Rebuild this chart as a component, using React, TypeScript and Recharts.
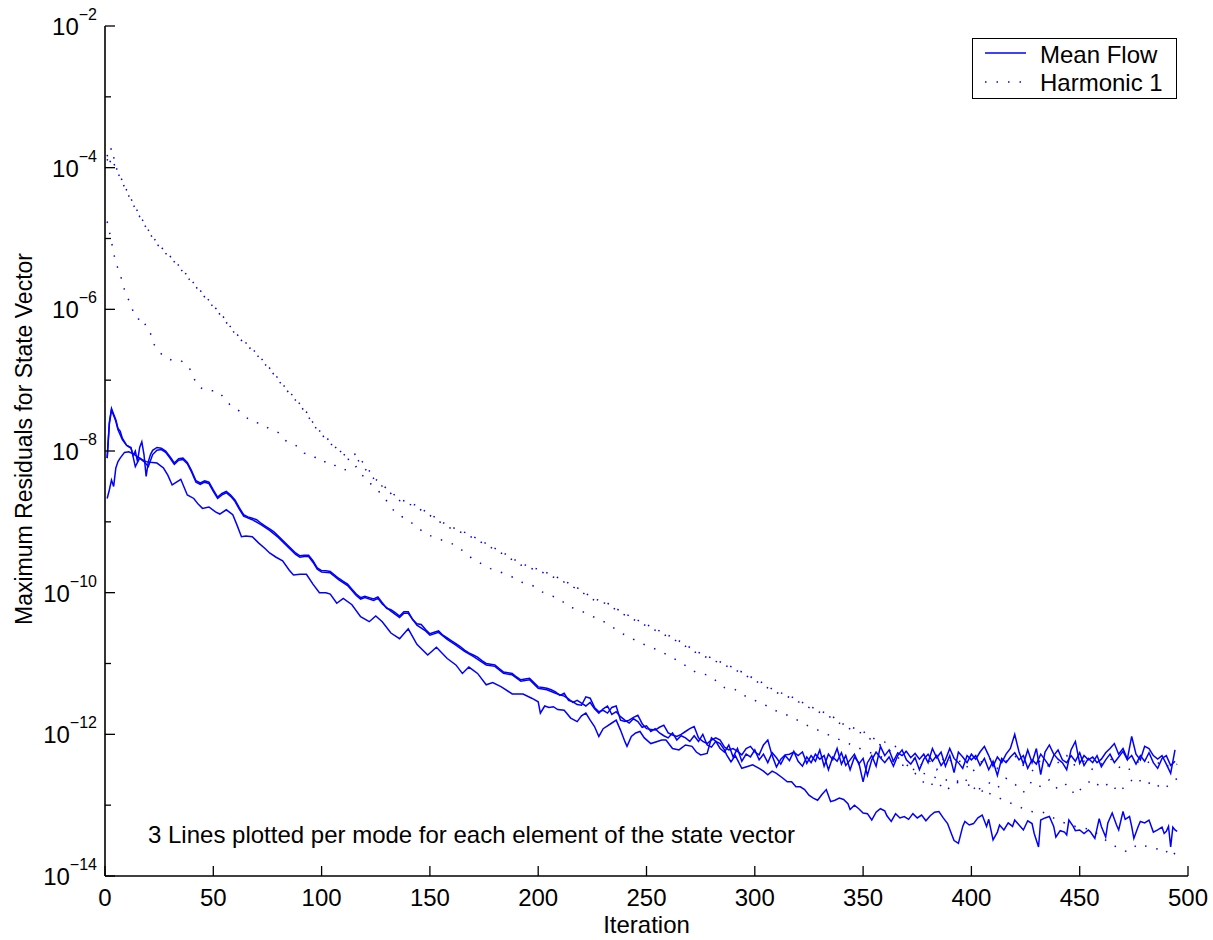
import React from "react";
import { LineChart, Line, XAxis, YAxis, Legend } from "recharts";

const FONT = '"Liberation Sans", Arial, Helvetica, sans-serif';
const BLUE = "#0000ff";

// [iteration, log10(max residual)]
const meanFlowA: [number, number][] = [
  [1, -8.1], [2, -7.6], [3, -7.4], [4, -7.48], [5, -7.56], [6, -7.68], [7, -7.72], [8, -7.82],
  [10, -7.92], [11, -7.94], [12, -7.96], [13, -8.06], [14, -8.0], [15, -8.15], [16, -7.95], [17, -7.87],
  [18, -8.05], [19, -8.36], [20, -8.15], [21, -8.05], [22, -7.99], [24, -7.95], [26, -7.96], [28, -8.0],
  [30, -8.08], [32, -8.17], [34, -8.11], [36, -8.1], [38, -8.16], [40, -8.28], [42, -8.42], [44, -8.45],
  [46, -8.42], [48, -8.44], [50, -8.55], [52, -8.65], [54, -8.6], [56, -8.57], [58, -8.62], [60, -8.69],
  [62, -8.8], [64, -8.9], [66, -8.93], [68, -8.95], [70, -8.97], [72, -9.02], [74, -9.06], [76, -9.1],
  [78, -9.14], [80, -9.2], [82, -9.26], [84, -9.32], [86, -9.38], [88, -9.44], [90, -9.48], [92, -9.47],
  [94, -9.47], [96, -9.55], [98, -9.65], [100, -9.69], [102, -9.69], [104, -9.7], [106, -9.75], [108, -9.8],
  [110, -9.84], [112, -9.88], [114, -9.95], [116, -10.02], [118, -10.07], [120, -10.05], [122, -10.07],
  [124, -10.09], [126, -10.06], [128, -10.14], [130, -10.22], [132, -10.24], [134, -10.28], [136, -10.33],
  [138, -10.27], [140, -10.27], [142, -10.38], [144, -10.44], [146, -10.45], [148, -10.52], [150, -10.58],
  [152, -10.56], [154, -10.54], [156, -10.6], [158, -10.64], [160, -10.68], [162, -10.72], [164, -10.76],
  [166, -10.81], [168, -10.85], [170, -10.88], [172, -10.91], [174, -10.96], [176, -11.0], [178, -11.01],
  [180, -11.02], [182, -11.07], [184, -11.12], [186, -11.13], [188, -11.14], [190, -11.19], [192, -11.23],
  [194, -11.22], [196, -11.21], [198, -11.27], [200, -11.33], [202, -11.34], [204, -11.35], [206, -11.37],
  [208, -11.4], [210, -11.45], [212, -11.42], [214, -11.52], [216, -11.54], [218, -11.58], [220, -11.59],
  [222, -11.47], [224, -11.49], [226, -11.62], [228, -11.68], [230, -11.66], [232, -11.7], [234, -11.62],
  [236, -11.6], [238, -11.8], [240, -11.82], [242, -11.8], [244, -11.76], [246, -11.73], [248, -11.85],
  [250, -11.92], [252, -11.93], [254, -11.94], [256, -11.9], [258, -11.87], [260, -11.98], [262, -12.01],
  [264, -12.03], [266, -12.0], [268, -11.96], [270, -11.92], [272, -11.89], [274, -12.05], [276, -12.1],
  [278, -12.13], [280, -12.08], [282, -12.05], [284, -12.08], [286, -12.18], [288, -12.22], [290, -12.2],
  [292, -12.24], [294, -12.29], [296, -12.2], [298, -12.17], [300, -12.25], [302, -12.29], [304, -12.15],
  [306, -12.08], [308, -12.3], [310, -12.46], [312, -12.35], [314, -12.29], [316, -12.28], [318, -12.25],
  [320, -12.3], [322, -12.25], [324, -12.41], [326, -12.3], [328, -12.38], [330, -12.22], [332, -12.45],
  [334, -12.28], [336, -12.36], [338, -12.2], [340, -12.42], [342, -12.3], [344, -12.5], [346, -12.32],
  [348, -12.4], [350, -12.67], [352, -12.4], [354, -12.3], [356, -12.45], [358, -12.17], [360, -12.3],
  [362, -12.22], [364, -12.38], [366, -12.26], [368, -12.3], [370, -12.24], [372, -12.33], [374, -12.27],
  [376, -12.35], [378, -12.28], [380, -12.4], [382, -12.2], [384, -12.33], [386, -12.25], [388, -12.45],
  [390, -12.3], [392, -12.54], [394, -12.25], [396, -12.32], [398, -12.4], [400, -12.28], [402, -12.35],
  [404, -12.25], [406, -12.17], [408, -12.3], [410, -12.45], [412, -12.32], [414, -12.4], [416, -12.28],
  [418, -12.2], [420, -12.0], [422, -12.25], [424, -12.42], [426, -12.22], [428, -12.4], [430, -12.2],
  [432, -12.57], [434, -12.25], [436, -12.15], [438, -12.28], [440, -12.35], [442, -12.4], [444, -12.5],
  [446, -12.22], [448, -12.1], [450, -12.41], [452, -12.3], [454, -12.36], [456, -12.32], [458, -12.4],
  [460, -12.35], [462, -12.26], [464, -12.2], [466, -12.13], [468, -12.28], [470, -12.2], [472, -12.35],
  [474, -12.03], [476, -12.28], [478, -12.36], [480, -12.17], [482, -12.2], [484, -12.3], [486, -12.35],
  [488, -12.3], [490, -12.42], [492, -12.55], [494, -12.22],
];

const meanFlowB: [number, number][] = [
  [1, -8.1], [2, -7.62], [3, -7.42], [4, -7.5], [5, -7.58], [6, -7.7], [8, -7.84], [10, -7.92],
  [12, -7.95], [14, -8.22], [16, -8.1], [18, -8.15], [20, -8.22], [22, -8.05], [24, -7.99], [26, -7.98],
  [28, -8.02], [30, -8.1], [32, -8.19], [34, -8.13], [36, -8.12], [38, -8.18], [40, -8.3], [42, -8.44],
  [44, -8.47], [46, -8.44], [48, -8.46], [50, -8.57], [52, -8.67], [54, -8.62], [56, -8.59], [58, -8.64],
  [60, -8.71], [62, -8.82], [64, -8.92], [68, -8.97], [72, -9.04], [76, -9.12], [80, -9.22], [84, -9.34],
  [88, -9.46], [90, -9.5], [92, -9.49], [94, -9.49], [96, -9.57], [98, -9.67], [100, -9.71], [104, -9.72],
  [108, -9.82], [112, -9.9], [116, -10.04], [118, -10.09], [120, -10.07], [124, -10.11], [126, -10.08],
  [128, -10.16], [132, -10.26], [136, -10.35], [138, -10.29], [140, -10.29], [144, -10.46], [148, -10.54],
  [150, -10.6], [154, -10.56], [158, -10.66], [162, -10.74], [166, -10.83], [170, -10.9], [174, -10.98],
  [176, -11.02], [180, -11.04], [184, -11.14], [188, -11.16], [192, -11.25], [196, -11.23], [200, -11.35],
  [204, -11.37], [208, -11.42], [210, -11.44], [212, -11.46], [214, -11.5], [216, -11.55], [218, -11.52],
  [220, -11.56], [222, -11.6], [224, -11.55], [226, -11.64], [228, -11.7], [230, -11.64], [232, -11.6],
  [234, -11.72], [236, -11.68], [238, -11.75], [240, -11.8], [242, -11.84], [244, -11.78], [246, -11.82],
  [248, -11.9], [250, -11.88], [252, -11.96], [254, -11.92], [256, -11.98], [258, -12.02], [260, -12.05],
  [262, -11.98], [264, -12.08], [266, -12.02], [268, -12.05], [270, -12.1], [272, -12.02], [274, -12.1],
  [276, -12.0], [278, -12.15], [280, -12.18], [282, -12.1], [284, -12.2], [286, -12.25], [288, -12.15],
  [290, -12.32], [292, -12.2], [294, -12.38], [296, -12.28], [298, -12.32], [300, -12.22], [302, -12.36],
  [304, -12.28], [306, -12.4], [308, -12.26], [310, -12.33], [312, -12.42], [314, -12.3], [316, -12.37],
  [318, -12.24], [320, -12.38], [322, -12.45], [324, -12.32], [326, -12.4], [328, -12.28], [330, -12.35],
  [332, -12.3], [334, -12.5], [336, -12.32], [338, -12.38], [340, -12.26], [342, -12.44], [344, -12.36],
  [346, -12.28], [348, -12.42], [350, -12.34], [352, -12.58], [354, -12.36], [356, -12.25], [358, -12.33],
  [360, -12.4], [362, -12.32], [364, -12.45], [366, -12.3], [368, -12.22], [370, -12.36], [372, -12.42],
  [374, -12.33], [376, -12.5], [378, -12.35], [380, -12.28], [382, -12.38], [384, -12.3], [386, -12.44],
  [388, -12.36], [390, -12.2], [392, -12.34], [394, -12.4], [396, -12.48], [398, -12.3], [400, -12.36],
  [402, -12.3], [404, -12.44], [406, -12.34], [408, -12.5], [410, -12.38], [412, -12.58], [414, -12.34],
  [416, -12.4], [418, -12.32], [420, -12.26], [422, -12.36], [424, -12.3], [426, -12.48], [428, -12.36],
  [430, -12.42], [432, -12.28], [434, -12.36], [436, -12.45], [438, -12.3], [440, -12.22], [442, -12.36],
  [444, -12.4], [446, -12.3], [448, -12.38], [450, -12.26], [452, -12.44], [454, -12.34], [456, -12.4],
  [458, -12.3], [460, -12.46], [462, -12.36], [464, -12.28], [466, -12.4], [468, -12.32], [470, -12.24],
  [472, -12.36], [474, -12.3], [476, -12.42], [478, -12.3], [480, -12.38], [482, -12.26], [484, -12.4],
  [486, -12.48], [488, -12.34], [490, -12.3], [492, -12.44], [494, -12.38],
];

const meanFlowC: [number, number][] = [
  [1, -8.67], [2, -8.55], [3, -8.41], [4, -8.5], [5, -8.24], [6, -8.15], [7, -8.1], [9, -8.02],
  [11, -8.01], [13, -8.04], [15, -8.08], [17, -8.12], [19, -8.15], [21, -8.16], [24, -8.17], [27, -8.24],
  [29, -8.34], [31, -8.48], [33, -8.44], [35, -8.4], [38, -8.62], [41, -8.67], [43, -8.75], [45, -8.81],
  [48, -8.79], [51, -8.86], [53, -8.89], [56, -8.83], [59, -8.9], [61, -9.05], [63, -9.21], [65, -9.2],
  [68, -9.21], [71, -9.3], [74, -9.38], [76, -9.44], [79, -9.5], [82, -9.55], [85, -9.68], [87, -9.75],
  [90, -9.74], [93, -9.74], [96, -9.88], [99, -10.0], [102, -10.0], [104, -10.02], [107, -10.15],
  [110, -10.08], [114, -10.17], [118, -10.34], [122, -10.41], [125, -10.33], [128, -10.41], [132, -10.57],
  [136, -10.65], [140, -10.51], [144, -10.73], [149, -10.88], [153, -10.77], [158, -10.93], [162, -11.02],
  [165, -11.14], [168, -11.05], [172, -11.14], [176, -11.3], [179, -11.27], [183, -11.33], [188, -11.43],
  [193, -11.43], [197, -11.49], [200, -11.54], [201, -11.7], [203, -11.6], [205, -11.62], [207, -11.61],
  [209, -11.65], [212, -11.66], [215, -11.77], [218, -11.82], [220, -11.74], [222, -11.7], [224, -11.8],
  [226, -11.89], [228, -12.03], [230, -11.92], [232, -11.88], [234, -11.84], [236, -11.8], [238, -11.94],
  [240, -12.1], [241, -12.17], [243, -12.03], [245, -11.98], [247, -11.96], [249, -12.05], [252, -12.13],
  [255, -12.1], [257, -12.08], [259, -12.08], [262, -12.2], [265, -12.22], [268, -12.15], [271, -12.17],
  [273, -12.25], [275, -12.29], [278, -12.27], [280, -12.05], [282, -12.1], [284, -12.13], [286, -12.22],
  [287, -12.29], [289, -12.39], [291, -12.3], [294, -12.48], [297, -12.45], [299, -12.43], [302, -12.48],
  [304, -12.52], [306, -12.57], [308, -12.52], [310, -12.55], [313, -12.62], [315, -12.67], [317, -12.67],
  [319, -12.74], [321, -12.74], [323, -12.78], [325, -12.86], [327, -12.9], [329, -12.93], [331, -12.85],
  [333, -12.78], [335, -12.95], [337, -12.93], [339, -12.9], [341, -12.92], [343, -12.98], [344, -13.06],
  [346, -13.0], [348, -13.05], [350, -13.11], [352, -13.12], [354, -13.21], [356, -13.1], [358, -13.05],
  [360, -13.08], [361, -13.15], [363, -13.23], [365, -13.12], [367, -13.18], [369, -13.16], [371, -13.2],
  [373, -13.12], [375, -13.18], [377, -13.14], [379, -13.22], [381, -13.15], [383, -13.1], [385, -13.09],
  [387, -13.18], [389, -13.26], [391, -13.42], [392, -13.5], [394, -13.54], [396, -13.3], [397, -13.23],
  [399, -13.28], [401, -13.26], [403, -13.18], [405, -13.14], [407, -13.3], [408, -13.2], [410, -13.49],
  [412, -13.38], [413, -13.28], [415, -13.35], [417, -13.25], [419, -13.3], [420, -13.21], [422, -13.28],
  [424, -13.35], [426, -13.22], [428, -13.26], [429, -13.4], [431, -13.59], [432, -13.21], [434, -13.18],
  [436, -13.16], [438, -13.3], [439, -13.45], [441, -13.36], [443, -13.38], [444, -13.42], [445, -13.21],
  [447, -13.3], [448, -13.36], [450, -13.35], [452, -13.4], [454, -13.35], [455, -13.38], [457, -13.47],
  [459, -13.19], [460, -13.3], [462, -13.45], [463, -13.25], [465, -13.11], [467, -13.28], [468, -13.35],
  [470, -13.09], [471, -13.2], [473, -13.16], [474, -13.3], [475, -13.47], [477, -13.3], [478, -13.23],
  [480, -13.25], [482, -13.21], [484, -13.38], [486, -13.35], [488, -13.31], [489, -13.4], [490, -13.37],
  [491, -13.3], [492, -13.59], [493, -13.31], [494, -13.35], [495, -13.37],
];

const harmonicA: [number, number][] = [
  [1, -3.9], [2, -3.8], [3, -3.72], [4, -3.85], [5, -3.99], [7, -4.12], [10, -4.32], [13, -4.5],
  [16, -4.67], [20, -4.88], [24, -5.06], [28, -5.19], [32, -5.31], [36, -5.45], [39, -5.56], [43, -5.7],
  [47, -5.84], [51, -5.98], [55, -6.12], [58, -6.25], [62, -6.39], [66, -6.5], [70, -6.62], [74, -6.76],
  [78, -6.9], [82, -7.06], [85, -7.16], [89, -7.3], [93, -7.45], [96, -7.6], [98, -7.68], [101, -7.78],
  [105, -7.89], [108, -8.01], [112, -8.08], [116, -8.04], [120, -8.2], [125, -8.4], [130, -8.53],
  [136, -8.68], [143, -8.76], [150, -8.89], [158, -9.05], [167, -9.16], [175, -9.29], [184, -9.44],
  [192, -9.59], [201, -9.68], [210, -9.8], [218, -9.93], [226, -10.09], [231, -10.13], [239, -10.28],
  [248, -10.42], [256, -10.54], [265, -10.68], [273, -10.83], [282, -10.95], [291, -11.07], [300, -11.22],
  [304, -11.28], [309, -11.38], [317, -11.47], [325, -11.6], [335, -11.73], [342, -11.88], [349, -11.94],
  [355, -12.06], [362, -12.13], [367, -12.2], [372, -12.28], [376, -12.45], [380, -12.35], [384, -12.5],
  [388, -12.3], [392, -12.42], [396, -12.36], [400, -12.55], [404, -12.4], [408, -12.32], [412, -12.48],
  [416, -12.38], [420, -12.3], [424, -12.44], [428, -12.52], [432, -12.36], [436, -12.46], [440, -12.4],
  [444, -12.3], [448, -12.45], [452, -12.38], [456, -12.5], [460, -12.42], [464, -12.34], [468, -12.46],
  [472, -12.52], [476, -12.4], [480, -12.36], [484, -12.44], [488, -12.38], [492, -12.48], [495, -12.42],
];

const harmonicB: [number, number][] = [
  [1, -3.82], [2, -3.95], [3, -3.86], [4, -3.93], [5, -4.02], [7, -4.14], [10, -4.34], [13, -4.52],
  [16, -4.69], [20, -4.9], [24, -5.08], [28, -5.21], [32, -5.33], [36, -5.47], [39, -5.58], [43, -5.72],
  [47, -5.86], [51, -6.0], [55, -6.14], [58, -6.27], [62, -6.41], [66, -6.52], [70, -6.64], [74, -6.78],
  [78, -6.92], [82, -7.08], [85, -7.18], [89, -7.32], [93, -7.47], [96, -7.62], [98, -7.7], [101, -7.8],
  [105, -7.92], [108, -7.98], [112, -8.12], [116, -8.1], [120, -8.25], [125, -8.42], [130, -8.55],
  [136, -8.7], [143, -8.78], [150, -8.91], [158, -9.07], [167, -9.18], [175, -9.31], [184, -9.46],
  [192, -9.61], [201, -9.7], [210, -9.82], [218, -9.95], [226, -10.11], [231, -10.15], [239, -10.3],
  [248, -10.44], [256, -10.56], [265, -10.7], [273, -10.85], [282, -10.97], [291, -11.09], [300, -11.24],
  [309, -11.4], [317, -11.49], [325, -11.62], [335, -11.76], [342, -11.9], [349, -11.98], [355, -12.1],
  [362, -12.22], [367, -12.35], [372, -12.48], [376, -12.62], [380, -12.74], [384, -12.66], [388, -12.8],
  [392, -12.7], [396, -12.6], [400, -12.72], [404, -12.84], [408, -12.68], [412, -12.76], [416, -12.62],
  [420, -12.7], [424, -12.82], [428, -12.66], [432, -12.74], [436, -12.64], [440, -12.78], [444, -12.7],
  [448, -12.86], [452, -12.72], [456, -12.64], [460, -12.76], [464, -12.68], [468, -12.82], [472, -12.7],
  [476, -12.6], [480, -12.72], [484, -12.66], [488, -12.78], [492, -12.7], [495, -12.62],
];

const harmonicC: [number, number][] = [
  [1, -4.76], [2, -4.9], [3, -5.05], [4, -5.2], [5, -5.35], [7, -5.49], [8, -5.63], [10, -5.82],
  [12, -5.92], [13, -6.04], [15, -6.14], [18, -6.13], [19, -6.28], [21, -6.34], [22, -6.47], [24, -6.55],
  [27, -6.67], [31, -6.72], [35, -6.72], [39, -6.83], [41, -6.97], [43, -7.09], [47, -7.15], [52, -7.15],
  [55, -7.25], [58, -7.36], [61, -7.41], [65, -7.52], [68, -7.59], [72, -7.61], [76, -7.69], [80, -7.74],
  [83, -7.85], [86, -7.88], [90, -7.96], [92, -8.03], [96, -8.06], [99, -8.15], [104, -8.15], [108, -8.25],
  [112, -8.27], [116, -8.22], [120, -8.39], [124, -8.5], [128, -8.62], [134, -8.87], [141, -9.0],
  [148, -9.17], [154, -9.24], [162, -9.33], [166, -9.43], [170, -9.53], [178, -9.66], [187, -9.76],
  [192, -9.85], [197, -9.89], [201, -9.98], [210, -10.09], [214, -10.2], [218, -10.23], [222, -10.29],
  [231, -10.42], [239, -10.58], [248, -10.72], [256, -10.82], [265, -10.97], [273, -11.13], [278, -11.16],
  [282, -11.24], [286, -11.34], [290, -11.35], [295, -11.45], [300, -11.52], [305, -11.59], [310, -11.67],
  [316, -11.74], [324, -11.87], [332, -11.98], [341, -12.1], [350, -12.22], [361, -12.35], [372, -12.48],
  [382, -12.6], [392, -12.67], [402, -12.74], [410, -12.86], [418, -12.97], [427, -13.09], [433, -13.1],
  [441, -13.23], [448, -13.3], [456, -13.35], [460, -13.45], [465, -13.56], [472, -13.66], [477, -13.55],
  [482, -13.59], [486, -13.62], [489, -13.61], [492, -13.73], [495, -13.65],
];

const legendOrder = ["Mean Flow", "Harmonic 1"];
const xTicks = [0, 50, 100, 150, 200, 250, 300, 350, 400, 450, 500];
const decadeExponents = [-14, -13, -12, -11, -10, -9, -8, -7, -6, -5, -4, -3, -2];
const yTicks = decadeExponents.map((e) => Math.pow(10, e));

const toPoints = (pairs: [number, number][]) =>
  pairs.map(([it, e]) => ({ it, r: Math.pow(10, e) }));

const DOTTED = "1.5 10";

function exponentOf(v: number) {
  return Math.round(Math.log10(v));
}

function LeftTick(props: any) {
  const { x, y, payload } = props;
  const exp = exponentOf(payload.value);
  const major = exp % 2 === 0;
  return (
    <g>
      <line x1={x} x2={x + (major ? 10 : 6)} y1={y} y2={y} stroke="#000" strokeWidth={1.3} />
      {major && (
        <text x={x - 8} y={y + 9} textAnchor="end" fontFamily={FONT} fontSize={24} fill="#000">
          10
          <tspan fontSize={16} dy={-15}>{`\u2212${-exp}`}</tspan>
        </text>
      )}
    </g>
  );
}

function RightTick(props: any) {
  const { x, y, payload } = props;
  const major = exponentOf(payload.value) % 2 === 0;
  return <line x1={x} x2={x - (major ? 10 : 6)} y1={y} y2={y} stroke="#000" strokeWidth={1.3} />;
}

function BottomTick(props: any) {
  const { x, y, payload } = props;
  return (
    <g>
      <line x1={x} x2={x} y1={y} y2={y - 10} stroke="#000" strokeWidth={1.3} />
      <text x={x} y={y + 30} textAnchor="middle" fontFamily={FONT} fontSize={24} fill="#000">
        {payload.value}
      </text>
    </g>
  );
}

function TopTick(props: any) {
  const { x, y } = props;
  return <line x1={x} x2={x} y1={y} y2={y + 10} stroke="#000" strokeWidth={1.3} />;
}

function LegendBox(props: any) {
  const items = (props.payload ?? [])
    .filter((entry: any) => entry.type !== "none" && legendOrder.includes(entry.value))
    .sort((a: any, b: any) => legendOrder.indexOf(a.value) - legendOrder.indexOf(b.value));
  return (
    <svg width={205} height={61} style={{ display: "block" }}>
      <rect x={0.5} y={0.5} width={204} height={60} fill="#fff" stroke="#000" strokeWidth={1} />
      {items.map((entry: any, i: number) => (
        <g key={entry.value}>
          <line
            x1={13}
            x2={54}
            y1={15 + i * 29}
            y2={15 + i * 29}
            stroke={entry.color}
            strokeWidth={1.5}
            strokeDasharray={entry.payload?.strokeDasharray}
          />
          <text x={68} y={25 + i * 28} fontFamily={FONT} fontSize={24} fill="#000">
            {entry.value}
          </text>
        </g>
      ))}
    </svg>
  );
}

const axisLine = { stroke: "#000", strokeWidth: 1.6 };

export default function App() {
  return (
    <div style={{ position: "absolute", left: 0, top: 0, width: 1213, height: 940, background: "#fff" }}>
      <LineChart width={1213} height={940} margin={{ top: 26, right: 25, bottom: 0, left: 0 }}>
        <XAxis
          dataKey="it"
          type="number"
          domain={[0, 500]}
          ticks={xTicks}
          interval={0}
          allowDataOverflow
          height={64}
          axisLine={axisLine}
          tickLine={false}
          tickSize={0}
          tickMargin={0}
          tick={<BottomTick />}
          label={{ value: "Iteration", position: "insideBottom", offset: 7, fill: "#000", fontSize: 24, fontFamily: FONT }}
        />
        <XAxis
          xAxisId="top"
          orientation="top"
          type="number"
          domain={[0, 500]}
          ticks={xTicks}
          interval={0}
          allowDataOverflow
          height={0}
          axisLine={axisLine}
          tickLine={false}
          tickSize={0}
          tickMargin={0}
          tick={<TopTick />}
        />
        <YAxis
          type="number"
          scale="log"
          domain={[1e-14, 1e-2]}
          ticks={yTicks}
          interval={0}
          allowDataOverflow
          width={105}
          axisLine={axisLine}
          tickLine={false}
          tickSize={0}
          tickMargin={0}
          tick={<LeftTick />}
          label={{
            value: "Maximum Residuals for State Vector",
            angle: -90,
            position: "insideLeft",
            offset: 24,
            dy: -12,
            fill: "#000",
            fontSize: 23,
            fontFamily: FONT,
            style: { textAnchor: "middle" },
          }}
        />
        <YAxis
          yAxisId="right"
          orientation="right"
          type="number"
          scale="log"
          domain={[1e-14, 1e-2]}
          ticks={yTicks}
          interval={0}
          allowDataOverflow
          width={0}
          axisLine={axisLine}
          tickLine={false}
          tickSize={0}
          tickMargin={0}
          tick={<RightTick />}
        />
        <Legend
          layout="vertical"
          align="center"
          verticalAlign="middle"
          wrapperStyle={{ top: 38, left: 972, width: 205, height: 61 }}
          content={<LegendBox />}
        />
        <Line data={toPoints(meanFlowA)} dataKey="r" name="Mean Flow" stroke={BLUE} strokeWidth={1.5} dot={false} isAnimationActive={false} />
        <Line data={toPoints(meanFlowB)} dataKey="r" name="Mean Flow (2)" legendType="none" stroke={BLUE} strokeWidth={1.5} dot={false} isAnimationActive={false} />
        <Line data={toPoints(meanFlowC)} dataKey="r" name="Mean Flow (3)" legendType="none" stroke={BLUE} strokeWidth={1.5} dot={false} isAnimationActive={false} />
        <Line data={toPoints(harmonicA)} dataKey="r" name="Harmonic 1" stroke={BLUE} strokeWidth={1.5} strokeDasharray={DOTTED} dot={false} isAnimationActive={false} />
        <Line data={toPoints(harmonicB)} dataKey="r" name="Harmonic 1 (2)" legendType="none" stroke={BLUE} strokeWidth={1.5} strokeDasharray={DOTTED} dot={false} isAnimationActive={false} />
        <Line data={toPoints(harmonicC)} dataKey="r" name="Harmonic 1 (3)" legendType="none" stroke={BLUE} strokeWidth={1.5} strokeDasharray={DOTTED} dot={false} isAnimationActive={false} />
      </LineChart>
      <svg width={1213} height={940} style={{ position: "absolute", left: 0, top: 0, pointerEvents: "none" }}>
        <text x={148} y={843} fontFamily={FONT} fontSize={24} fill="#000">
          3 Lines plotted per mode for each element of the state vector
        </text>
      </svg>
    </div>
  );
}
